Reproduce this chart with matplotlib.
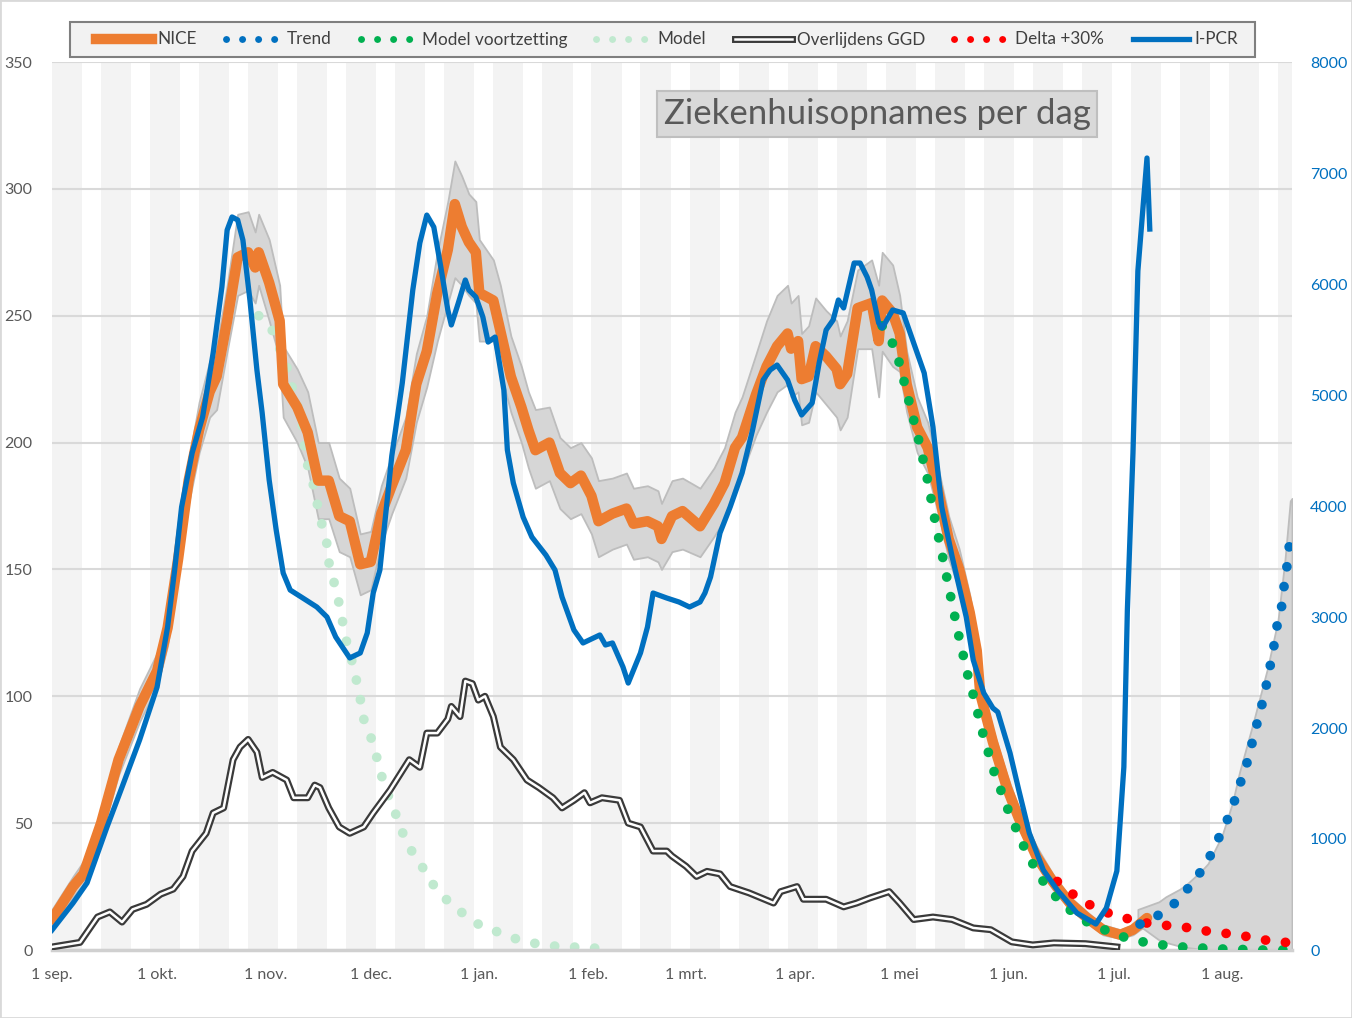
import numpy as np
import matplotlib.pyplot as plt
from matplotlib.lines import Line2D
from matplotlib.patches import Rectangle
from matplotlib.legend_handler import HandlerTuple

plt.rcParams['font.family'] = ['Lato', 'DejaVu Sans']

# days since 1 sep 2020
month_days = [0, 30, 61, 91, 122, 153, 181, 212, 242, 273, 303, 334]
month_labels = ['1 sep.', '1 okt.', '1 nov.', '1 dec.', '1 jan.', '1 feb.', '1 mrt.',
                '1 apr.', '1 mei', '1 jun.', '1 jul.', '1 aug.']

# NICE hospital admissions (7-day avg) with band
nice_day = [0, 6, 9, 14, 19, 25, 30, 33, 36, 39, 42, 45, 47, 50, 53, 56, 58, 59, 62, 65, 66, 70,
            73, 76, 79, 82, 85, 88, 91, 94, 97, 101, 104, 107, 110, 113, 115, 117, 119, 121, 122,
            126, 128, 131, 134, 136, 138, 142, 145, 148, 151, 154, 156, 160, 164, 166, 170, 173,
            174, 177, 180, 185, 189, 192, 195, 197, 201, 204, 207, 210, 211, 213, 214, 216, 218,
            221, 224, 225, 227, 230, 234, 236, 237, 240, 242, 244, 247, 250, 253, 256, 259, 262,
            264, 265, 268.6, 272.6, 276, 281, 285.7, 290.6, 295.5, 300, 305, 308.6, 312.6]
nice_val = [12, 25, 30, 50, 75, 96, 110, 127, 154, 185, 205, 220, 226, 248, 273, 275, 269, 275,
            263, 248, 223, 214, 204, 185, 185, 171, 169, 152, 153, 172, 183, 197, 223, 236, 259,
            276, 294, 285, 279, 275, 259, 256, 244, 226, 214, 205, 197, 200, 188, 184, 187, 179,
            169, 172, 174, 168, 169, 167, 162, 171, 173, 167, 176, 184, 198, 202, 219, 230, 238,
            243, 237, 240, 225, 226, 238, 234, 229, 223, 227, 253, 255, 240, 256, 251, 243, 223,
            206, 198, 181, 162, 150, 133, 118, 101, 82, 64, 52, 37, 27, 18.5, 12.6, 8, 6, 8, 12.6]
nice_lo = [9, 21, 26, 45, 69, 90, 104, 120, 147, 176, 196, 210, 213, 236, 258, 260, 255, 262,
           248, 233, 210, 200, 190, 170, 170, 157, 155, 140, 142, 160, 172, 186, 208, 222, 240,
           255, 265, 262, 258, 255, 240, 240, 228, 212, 200, 190, 182, 185, 174, 170, 172, 164,
           155, 158, 160, 154, 155, 153, 150, 157, 158, 155, 163, 170, 183, 188, 203, 212, 220,
           223, 218, 220, 207, 208, 220, 215, 210, 205, 210, 237, 237, 218, 236, 230, 228, 212,
           196, 188, 172, 154, 142, 126, 112, 96, 77, 60, 48, 34, 24, 16, 11, 6, 4.5, 6, 10]
nice_hi = [16, 29, 35, 55, 80, 103, 117, 134, 162, 193, 216, 232, 238, 262, 290, 291, 283, 290,
           280, 262, 238, 229, 220, 200, 200, 186, 182, 164, 165, 183, 195, 210, 235, 250, 275,
           295, 311, 305, 298, 295, 280, 272, 262, 242, 230, 220, 213, 214, 202, 198, 200, 194,
           185, 186, 188, 182, 183, 181, 176, 185, 186, 182, 190, 198, 212, 218, 235, 248, 258,
           262, 255, 258, 243, 246, 257, 252, 248, 242, 248, 268, 272, 262, 275, 270, 258, 236,
           218, 208, 190, 171, 158, 140, 124, 107, 87, 69, 56, 41, 30, 21, 15, 10, 8, 10, 16]

# I-PCR (right axis)
pcr_day = [0, 6, 10, 15.7, 20, 25, 30, 33, 35, 37, 40, 43, 46, 48.5, 50, 51.4, 53, 54.5, 56.5,
           58.5, 60, 62, 64, 66, 68, 71.6, 75.6, 78.5, 81, 85, 88, 90, 91.7, 93.6, 97, 100, 103,
           105, 107, 109, 111, 113, 114, 116, 118, 119, 121, 123, 124.5, 126.5, 129, 130, 131.7,
           134.5, 137, 141, 143.6, 145.6, 149, 151.6, 156.4, 158, 160, 163, 164.5, 168, 170,
           171.6, 175.5, 179, 182, 185, 186.4, 188, 190.7, 193.6, 197, 200, 203, 205, 207, 210,
           212, 214, 217, 219, 221, 223, 224.5, 226, 229, 230.7, 232.7, 234, 236, 237, 240, 243,
           246, 249, 251.5, 254, 257, 261, 263, 266, 268.6, 270, 273.5, 276, 279, 283, 287,
           292.6, 298, 301, 304, 306, 307, 308.6, 310, 312.6, 313.4]
pcr_val = [180, 423, 604, 1108, 1468, 1892, 2369, 2910, 3420, 3991, 4477, 4802, 5378, 5973,
           6486, 6604, 6577, 6396, 5856, 5225, 4838, 4234, 3784, 3396, 3243, 3171, 3090, 3000,
           2820, 2631, 2676, 2856, 3216, 3423, 4450, 5108, 5946, 6369, 6621, 6513, 6153, 5766,
           5631, 5829, 6036, 5946, 5883, 5703, 5477, 5522, 5045, 4504, 4207, 3900, 3720, 3558,
           3423, 3180, 2883, 2766, 2838, 2748, 2766, 2550, 2405, 2676, 2910, 3216, 3171, 3135,
           3090, 3135, 3216, 3360, 3757, 3991, 4297, 4685, 5135, 5225, 5270, 5135, 4955, 4820,
           4928, 5288, 5586, 5676, 5856, 5784, 6189, 6189, 6063, 5946, 5649, 5604, 5766, 5739,
           5468, 5198, 4712, 3991, 3540, 3000, 2613, 2315, 2180, 2144, 1775, 1441, 1054, 720,
           540, 333, 234, 378, 712, 1649, 3063, 4477, 6117, 7135, 6495]

# Overlijdens GGD
ggd_day = [0, 8, 11, 13, 16.5, 20, 23, 27, 31, 34.6, 37.4, 40, 44, 46, 49, 51.7, 53.7, 56, 58.5,
           60, 63, 67, 69, 73, 75, 76.5, 79, 82, 85, 89, 91.7, 96.5, 102, 105, 107, 110, 113, 114,
           116.5, 118, 120, 121.7, 123.6, 126, 128, 131.7, 135.6, 139, 143, 145.6, 149, 152,
           153.6, 157, 162, 164.5, 168, 171.6, 175.5, 177, 181, 184, 187, 190.7, 193.6, 199, 206,
           208, 212.7, 214.5, 221, 226, 229.7, 233.5, 239, 242, 246, 251.5, 257, 263, 268, 274,
           280, 286, 295, 304]
ggd_val = [1.2, 3, 9, 13, 15, 11, 16, 18, 22, 24, 29, 39, 46, 54, 56, 75, 80, 83, 78, 68, 70, 67,
           60, 60, 65, 64, 56, 48.5, 46, 48.5, 54, 63, 75, 72, 85.5, 85.5, 91, 96, 92, 106, 105,
           98.5, 100, 92, 80, 75, 67, 64, 60, 56, 59, 62, 58, 60, 59, 50, 48.5, 39, 39, 37, 33, 29,
           31, 30, 25, 22.5, 18.5, 23, 25, 20, 20, 17, 18.5, 20.5, 23, 18.5, 12, 13, 12, 8.7, 8,
           3.2, 2, 2.8, 2.5, 1.2]

# Model (first wave scenario)
model_day = [59, 63, 65, 67, 68.5, 70, 71.4, 72, 73, 74.5, 75.7, 77, 78.5, 79, 80.5, 81.6, 84,
             85.6, 86.8, 88, 89, 91, 92.7, 94, 96, 98, 100, 102.7, 105.6, 108.7, 112.5, 116.8,
             121, 126.5, 131.7, 137, 142.7, 148.4, 154, 160]
model_val = [250, 244, 237, 230, 222, 215, 207, 199, 191, 184, 176, 168, 160, 153, 145, 139, 122,
             114, 107, 99, 91, 84, 76, 69, 61, 54, 46.5, 39, 33, 26, 20, 15, 10.6, 7.5, 4.7, 2.8,
             1.6, 1.2, 0.8, 0.4]

# Model voortzetting
mv_day = [237, 240, 242, 244.7, 247.5, 250, 252, 254.4, 256.6, 259, 261.5, 263, 265.8, 269, 273,
          277.5, 280, 283, 286.6, 290.6, 295, 300.6, 306, 311.5, 317, 322.6, 328, 334, 340, 345,
          354]
mv_val = [246, 239, 231, 216, 200.6, 185, 170, 154, 139, 123, 108, 100.5, 85, 70, 55, 40.6, 34,
          27, 21, 15.8, 11.4, 7.9, 5.1, 3.2, 2, 1.2, 0.8, 0.4, 0.2, 0, 0]

# Delta +30%
delta_day = [287, 292.8, 298, 303, 308.6, 314, 319.7, 325, 331, 337, 342, 348, 354]
delta_val = [27, 20.5, 16.5, 13.8, 11.8, 10.2, 9.5, 8.7, 7.1, 6.3, 5.1, 3.5, 2.8]

# Trend with band
trend_day = [310.6, 315.5, 320.6, 323.9, 327.5, 330.6, 333.2, 335.3, 337.4, 339.3, 341, 342.5,
             343.9, 345.3, 346.6, 347.7, 348.8, 349.6, 351, 351.7, 352.5, 353.2]
trend_val = [10.2, 13.4, 18.5, 23.6, 30, 37, 44.5, 50.5, 58, 66, 73, 81, 88.7, 96, 104, 111.5,
             119.5, 127, 135, 143, 150.6, 159]
tband_day = [310, 316, 318, 322, 324, 328, 330, 334, 337, 339, 343, 347, 350, 352, 353.5, 354]
tband_lo = [10, 4, 3, 1.5, 1, 0.3, 0, 0, 0, 0, 0, 0, 0, 0, 0, 0]
tband_hi = [16, 19, 21, 24, 26, 31, 34, 45, 58, 70, 90, 111, 130, 154, 177, 178]

orange = '#ED7D31'
blue = '#0070C0'
dots = (0, (0.01, 2.05))

fig = plt.figure(figsize=(13.52, 10.18), dpi=100)
ax = fig.add_axes([52 / 1352, 68 / 1018, 1240 / 1352, 888 / 1018])
ax2 = ax.twinx()

# two-week stripes
for k in range(26):
    ax.axvspan(14 * k, 14 * k + 8.6, color='#f3f3f3', lw=0, zorder=0)

ax.fill_between(nice_day, nice_lo, nice_hi, facecolor='#d6d6d6', edgecolor='#bdbdbd', lw=1.3, zorder=1)
ax.fill_between(tband_day, tband_lo, tband_hi, facecolor='#d6d6d6', edgecolor='#bdbdbd', lw=1.3, zorder=1)

ax.plot(model_day, model_val, color='#c0e9cf', lw=7, linestyle=dots, dash_capstyle='round', zorder=2)
ax.plot(ggd_day, ggd_val, color='#3a3a3a', lw=5, zorder=3, solid_joinstyle='round')
ax.plot(ggd_day, ggd_val, color='white', lw=1.8, zorder=3, solid_joinstyle='round')
ax.plot(nice_day, nice_val, color=orange, lw=7.5, zorder=4, solid_joinstyle='round', solid_capstyle='round')
ax.plot(mv_day, mv_val, color='#00B050', lw=7, linestyle=dots, dash_capstyle='round', zorder=5)
ax.plot(delta_day, delta_val, color='#FF0000', lw=7, linestyle=dots, dash_capstyle='round', zorder=5)
ax.plot(trend_day, trend_val, color=blue, lw=7, linestyle=dots, dash_capstyle='round', zorder=6)
ax2.plot(pcr_day, pcr_val, color=blue, lw=3.8, solid_joinstyle='round')

ax.set_xlim(0, 354)
ax.set_ylim(0, 350)
ax2.set_ylim(0, 8000)
ax.set_yticks(range(0, 351, 50))
ax2.set_yticks(range(0, 8001, 1000))
ax.set_xticks(month_days)
ax.set_xticklabels(month_labels)
ax.grid(axis='y', color='#d9d9d9', lw=1.5)
ax.set_axisbelow(True)

for a in (ax, ax2):
    for s in a.spines.values():
        s.set_visible(False)
ax.spines['bottom'].set_visible(True)
ax.spines['bottom'].set_color('#d0d0d0')
ax.spines['bottom'].set_linewidth(2.5)

ax.tick_params(axis='y', length=0, labelsize=11.5, labelcolor='#595959', pad=14)
ax.tick_params(axis='x', length=0, labelsize=11.5, labelcolor='#595959', pad=13)
ax2.tick_params(axis='y', length=0, labelsize=11.5, labelcolor=blue, pad=13)

# legend frame drawn separately, entries spread inside it
fig.patches.append(Rectangle((70 / 1352, 1 - 57 / 1018), 1185 / 1352, 35 / 1018,
                             transform=fig.transFigure, fc='#f2f2f2', ec='#7f7f7f', lw=1.5))
handles = [
    Line2D([], [], color=orange, lw=7.5),
    Line2D([], [], color=blue, lw=5, linestyle=(0, (0.01, 2.3)), dash_capstyle='round'),
    Line2D([], [], color='#00B050', lw=5, linestyle=(0, (0.01, 2.3)), dash_capstyle='round'),
    Line2D([], [], color='#c0e9cf', lw=5, linestyle=(0, (0.01, 2.3)), dash_capstyle='round'),
    (Line2D([], [], color='#3a3a3a', lw=5), Line2D([], [], color='white', lw=1.8)),
    Line2D([], [], color='#FF0000', lw=5, linestyle=(0, (0.01, 2.3)), dash_capstyle='round'),
    Line2D([], [], color=blue, lw=3.8),
]
labels = ['NICE', 'Trend', 'Model voortzetting', 'Model', 'Overlijdens GGD', 'Delta +30%', 'I-PCR']
leg = fig.legend(handles, labels, loc='center left',
                 bbox_to_anchor=(96 / 1352, 1 - 57 / 1018, 1142 / 1352, 35 / 1018),
                 mode='expand', ncol=7, frameon=False, fontsize=12.3,
                 handlelength=3.3, handletextpad=0.3, borderaxespad=0, borderpad=0,
                 labelcolor='#404040', handler_map={tuple: HandlerTuple(ndivide=1)})

fig.text(877 / 1352, 1 - 114 / 1018, 'Ziekenhuisopnames per dag', ha='center', va='center',
         fontsize=25, color='#595959',
         bbox=dict(boxstyle='square,pad=0.2', fc='#d9d9d9', ec='#bfbfbf', lw=1.5))

fig.patches.append(Rectangle((0, 0), 1, 1, transform=fig.transFigure, fill=False,
                             ec='#d9d9d9', lw=2))

fig.savefig('out.png', dpi=100)
